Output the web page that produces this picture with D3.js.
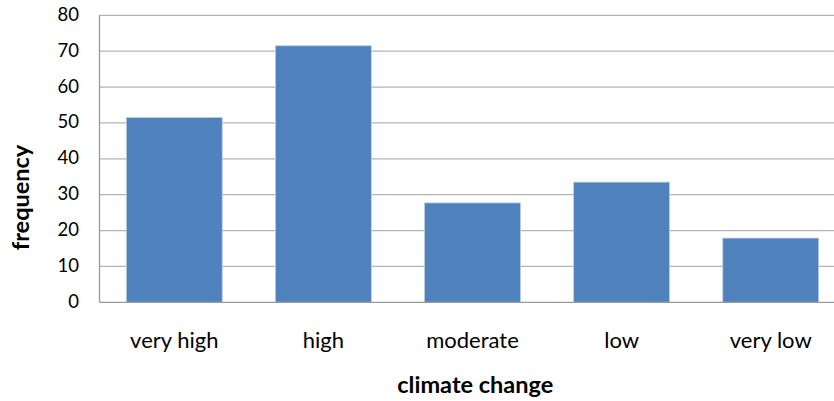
<!DOCTYPE html>
<html><head><meta charset="utf-8">
<script src="https://cdn.jsdelivr.net/npm/d3@7"></script>
<style>body{margin:0;background:#fff}svg{display:block}</style>
</head><body>
<script>
const categories = ["very high", "high", "moderate", "low", "very low"];
const values = [51.5, 71.5, 27.7, 33.5, 17.9];
const yTicks = [0, 10, 20, 30, 40, 50, 60, 70, 80];
const xTitle = "climate change";
const yTitle = "frequency";

(function () {
const W = 834, H = 401;
const mLeft = 99.5, mTop = 15.3, mBottom = 302.3, mRight = 845.5;
const font = "Lato, 'Liberation Sans', sans-serif";

const svg = d3.select("body").append("svg").attr("width", W).attr("height", H);
const x = d3.scaleBand().domain(categories).range([mLeft, mRight]).paddingInner(0.357).paddingOuter(0.18);
const y = d3.scaleLinear().domain([0, 80]).range([mBottom, mTop]);

svg.append("g").selectAll("line").data(yTicks.filter(d => d > 0)).join("line")
  .attr("x1", mLeft).attr("x2", W).attr("y1", d => y(d)).attr("y2", d => y(d))
  .attr("stroke", "#b4b4b4").attr("stroke-width", 1.3);

svg.append("g").selectAll("rect").data(values).join("rect")
  .attr("x", (d, i) => x(categories[i])).attr("width", x.bandwidth())
  .attr("y", d => y(d)).attr("height", d => y(0) - y(d))
  .attr("fill", "#4f81bd").attr("stroke", "#b9cde5").attr("stroke-width", 0.8);

svg.append("line").attr("x1", mLeft).attr("x2", mLeft).attr("y1", mTop).attr("y2", mBottom)
  .attr("stroke", "#9a9a9a").attr("stroke-width", 1.3);
svg.append("line").attr("x1", mLeft).attr("x2", W).attr("y1", mBottom).attr("y2", mBottom)
  .attr("stroke", "#9a9a9a").attr("stroke-width", 1.3);

const yAxis = d3.axisLeft(y).tickValues(yTicks).tickSize(0).tickPadding(20.5);
const gy = svg.append("g").attr("transform", `translate(${mLeft},0)`).call(yAxis);
gy.select(".domain").remove();
gy.selectAll("text").attr("font-family", font).attr("font-size", 18.5).attr("fill", "#000").attr("dy", 5);

const xAxis = d3.axisBottom(x).tickSize(0);
const gx = svg.append("g").attr("transform", `translate(0,${mBottom})`).call(xAxis);
gx.select(".domain").remove();
gx.selectAll("text").attr("font-family", font).attr("font-size", 22).attr("fill", "#000")
  .attr("dy", null).attr("y", 46);

svg.append("text").attr("x", 475.3).attr("y", 393.3)
  .attr("text-anchor", "middle").attr("font-family", font).attr("font-size", 23.5)
  .attr("font-weight", "bold").text(xTitle);
svg.append("text").attr("transform", "translate(29,197.5) rotate(-90)")
  .attr("text-anchor", "middle").attr("font-family", font).attr("font-size", 23.5)
  .attr("font-weight", "bold").text(yTitle);
})();
</script>
</body></html>
